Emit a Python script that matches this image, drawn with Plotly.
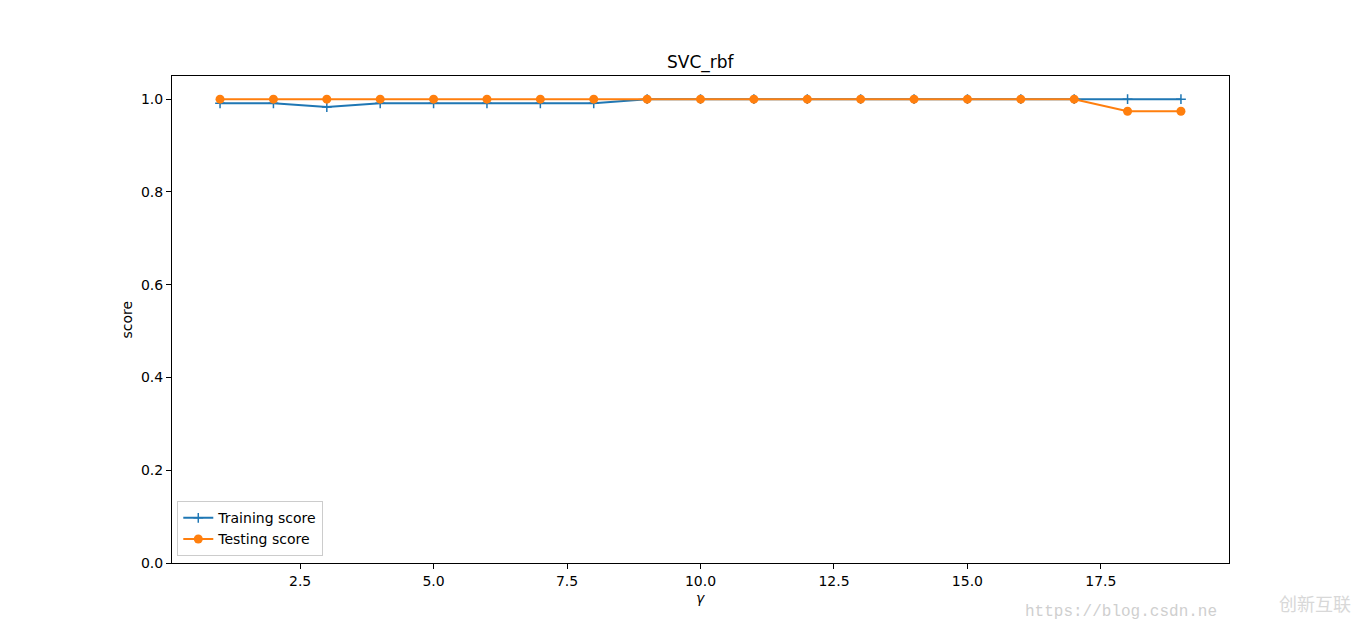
import plotly.graph_objects as go

gammas = list(range(1, 20))
training_score = [0.991, 0.991, 0.983, 0.991, 0.991, 0.991, 0.991, 0.991,
                  1.0, 1.0, 1.0, 1.0, 1.0, 1.0, 1.0, 1.0, 1.0, 1.0, 1.0]
testing_score = [1.0, 1.0, 1.0, 1.0, 1.0, 1.0, 1.0, 1.0, 1.0, 1.0,
                 1.0, 1.0, 1.0, 1.0, 1.0, 1.0, 1.0, 0.974, 0.974]
x_ticks = [2.5, 5.0, 7.5, 10.0, 12.5, 15.0, 17.5]
x_tick_labels = ["2.5", "5.0", "7.5", "10.0", "12.5", "15.0", "17.5"]
y_ticks = [0.0, 0.2, 0.4, 0.6, 0.8, 1.0]
y_tick_labels = ["0.0", "0.2", "0.4", "0.6", "0.8", "1.0"]

FONT = "DejaVu Sans"

fig = go.Figure()
fig.add_trace(go.Scatter(
    x=gammas, y=training_score, mode="lines+markers", name="Training score",
    line=dict(color="#1f77b4", width=2),
    marker=dict(symbol="cross-thin", size=7, color="#1f77b4",
                line=dict(color="#1f77b4", width=1.5)),
))
fig.add_trace(go.Scatter(
    x=gammas, y=testing_score, mode="lines+markers", name="Testing score",
    line=dict(color="#ff7f0e", width=2),
    marker=dict(symbol="circle", size=9, color="#ff7f0e"),
))

axis_common = dict(
    showgrid=False, zeroline=False, showline=True, mirror=True,
    linecolor="black", linewidth=1, ticks="outside", ticklen=5,
    tickcolor="black", tickwidth=1,
    tickfont=dict(family=FONT, size=14, color="black"),
)

fig.update_layout(
    width=1366, height=632,
    margin=dict(l=164, r=145, t=68, b=77),
    paper_bgcolor="white", plot_bgcolor="white",
    font=dict(family=FONT, color="black"),
    showlegend=True,
    legend=dict(
        x=0.005, y=0.014, xanchor="left", yanchor="bottom",
        bgcolor="rgba(255,255,255,0.8)", bordercolor="#cccccc", borderwidth=1,
        font=dict(family=FONT, size=14, color="black"),
        tracegroupgap=0, itemwidth=30,
    ),
    xaxis=dict(range=[0.1, 19.9], tickvals=x_ticks, ticktext=x_tick_labels,
               **axis_common),
    yaxis=dict(range=[0.0, 1.05], tickvals=y_ticks, ticktext=y_tick_labels,
               **axis_common),
    annotations=[
        dict(text="SVC_rbf", xref="paper", yref="paper", x=0.5, y=1,
             yshift=14, showarrow=False, xanchor="center", yanchor="middle",
             font=dict(family=FONT, size=17, color="black")),
        dict(text="score", xref="paper", yref="paper", x=0, y=0.5,
             xshift=-46, textangle=-90, showarrow=False,
             xanchor="center", yanchor="middle",
             font=dict(family=FONT, size=14, color="black")),
        dict(text="<i>γ</i>", xref="paper", yref="paper", x=0.5, y=0,
             yshift=-35, showarrow=False, xanchor="center", yanchor="middle",
             font=dict(family=FONT, size=14, color="black")),
        dict(text="https://blog.csdn.ne", xref="paper", yref="paper",
             x=1.0, y=0, xshift=-10, yshift=-49, showarrow=False,
             xanchor="right", yanchor="middle",
             font=dict(family="Liberation Mono", size=16, color="#cfcfcf")),
        dict(text="创新互联", xref="paper", yref="paper",
             x=1.0, y=0, xshift=124, yshift=-40, showarrow=False,
             xanchor="right", yanchor="middle",
             font=dict(family="Noto Sans CJK SC", size=18, color="#d8d8d8")),
    ],
)

fig.write_html("out.html")
